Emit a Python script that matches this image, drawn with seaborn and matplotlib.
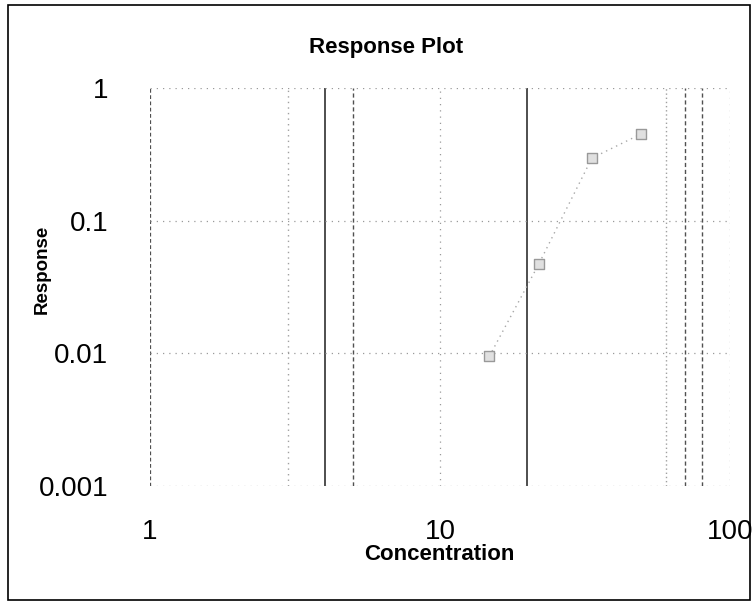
import matplotlib
matplotlib.use("Agg")
import matplotlib.pyplot as plt
from matplotlib.patches import Rectangle
import seaborn as sns
import pandas as pd

# Data
concentration = [14.8, 21.9, 33.4, 49.3]
response = [0.0095, 0.047, 0.296, 0.45]

x_ticks = [1, 10, 100]
x_tick_labels = ["1", "10", "100"]
y_ticks = [0.001, 0.01, 0.1, 1]
y_tick_labels = ["0.001", "0.01", "0.1", "1"]
x_minor_grid = [3, 4, 5, 20, 60, 70, 80]

sns.set_theme(style="white")
plt.rcParams["font.family"] = ["Liberation Sans", "DejaVu Sans"]
plt.rcParams["text.color"] = "black"
plt.rcParams["axes.labelcolor"] = "black"
plt.rcParams["xtick.color"] = "black"
plt.rcParams["ytick.color"] = "black"

df = pd.DataFrame({"Concentration": concentration, "Response": response})

W, H = 755, 611
fig = plt.figure(figsize=(W / 100, H / 100), dpi=100)
ax = fig.add_axes([150 / W, 1 - 486 / H, 580 / W, 398 / H])

ax.set_xscale("log")
ax.set_yscale("log")

sns.lineplot(data=df, x="Concentration", y="Response", ax=ax, color="#a8a8a8",
             linestyle=(0, (1, 3)), linewidth=1.0)
sns.scatterplot(data=df, x="Concentration", y="Response", ax=ax, marker="s", s=45,
                facecolor="#e0e0e0", edgecolor="#999999", linewidth=1.0, zorder=5)

ax.set_xlim(1, 100)
ax.set_ylim(0.001, 1)
ax.set_xticks(x_ticks)
ax.set_xticklabels(x_tick_labels)
ax.set_yticks(y_ticks)
ax.set_yticklabels(y_tick_labels)
ax.set_xticks(x_minor_grid, minor=True)
ax.set_xticklabels([], minor=True)
ax.yaxis.set_minor_locator(matplotlib.ticker.NullLocator())

ax.tick_params(axis="both", which="both", length=0)
ax.tick_params(axis="x", labelsize=20, pad=24, colors="black")
ax.tick_params(axis="y", labelsize=20, pad=30, colors="black")

ax.grid(True, which="major", color="#9a9a9a", linestyle=(0, (1, 4)), linewidth=0.9)
ax.grid(True, which="minor", axis="x", color="#9a9a9a", linestyle=(0, (1, 4)), linewidth=0.9)

# per-line styles as seen in the reference scan
styles = {3: ("#a0a0a0", (0, (1, 3)), 1.0),
          4: ("#303030", "-", 1.2),
          5: ("#505050", (0, (3, 2)), 1.0),
          20: ("#303030", "-", 1.2),
          60: ("#a0a0a0", (0, (1, 2)), 1.0),
          70: ("#505050", (0, (3, 2)), 1.0),
          80: ("#505050", (0, (3, 2)), 1.0)}
for tick, val in zip(ax.xaxis.get_minor_ticks(), x_minor_grid):
    c, ls, lw = styles[val]
    tick.gridline.set_color(c)
    tick.gridline.set_linestyle(ls)
    tick.gridline.set_linewidth(lw)
for tick, val in zip(ax.xaxis.get_major_ticks(), x_ticks):
    if val == 1:
        tick.gridline.set_color("#505050")
        tick.gridline.set_linestyle((0, (3, 2)))

for s in ax.spines.values():
    s.set_visible(False)

ax.set_xlabel("Concentration", fontsize=16, fontweight="bold")
ax.set_ylabel("Response", fontsize=13.5, fontweight="bold")
ax.xaxis.set_label_coords((439 - 150) / 580, -(544 - 486) / 398)
ax.yaxis.set_label_coords(-(150 - 51) / 580, (486 - 269) / 398)

fig.text(386 / W, 1 - 48 / H, "Response Plot", fontsize=16, fontweight="bold",
         ha="center", va="center")

fig.patches.append(Rectangle((8 / W, 1 - 600 / H), 742 / W, 595 / H,
                             transform=fig.transFigure, fill=False,
                             edgecolor="black", linewidth=1.2))

fig.savefig("out.png", dpi=100)
